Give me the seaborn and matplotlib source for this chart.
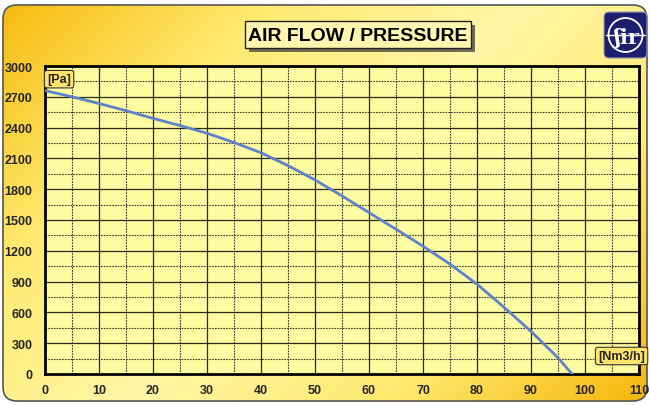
import numpy as np
import pandas as pd
import matplotlib
matplotlib.use("Agg")
import matplotlib.pyplot as plt
import seaborn as sns
from matplotlib.patches import FancyBboxPatch, Circle
from matplotlib.colors import LinearSegmentedColormap

sns.set_theme(style="white")
plt.rcParams['font.family'] = ['Liberation Sans', 'DejaVu Sans']

# data
flow = [0, 5, 10, 15, 20, 25, 30, 35, 40, 45, 50, 55, 60, 65, 70, 75, 80, 85, 90, 95, 97.6]
pressure = [2760, 2700, 2635, 2565, 2490, 2420, 2345, 2255, 2155, 2030, 1890, 1735,
            1572, 1410, 1245, 1070, 875, 650, 415, 158, 0]
x_ticks = [0, 10, 20, 30, 40, 50, 60, 70, 80, 90, 100, 110]
y_ticks = [0, 300, 600, 900, 1200, 1500, 1800, 2100, 2400, 2700, 3000]
title = "AIR FLOW / PRESSURE"
y_unit = "[Pa]"
x_unit = "[Nm3/h]"

W, H = 650, 406
fig = plt.figure(figsize=(W/100, H/100), dpi=100)
fig.patch.set_facecolor("white")

# background gradient panel
bg = fig.add_axes([0, 0, 1, 1], zorder=0)
bg.set_xlim(0, W); bg.set_ylim(H, 0); bg.axis("off")
cmap = LinearSegmentedColormap.from_list("g", ["#F6BC10", "#FFEA70", "#FFF6A6", "#FFEA70", "#F7B70C"])
xx, yy = np.meshgrid(np.linspace(0, 1, 300), np.linspace(0, 1, 200))
grad = (xx * 0.62 + yy * 0.38)
panel = FancyBboxPatch((3, 6), W - 6, H - 10, boxstyle="round,pad=0,rounding_size=14",
                       facecolor="none", edgecolor="#555555", lw=1.2, zorder=3)
bg.add_patch(panel)
im = bg.imshow(grad, cmap=cmap, extent=[3, W - 3, H - 4, 6], aspect="auto", zorder=1)
im.set_clip_path(panel)

# title box
bg.add_patch(FancyBboxPatch((249, 26), 226, 27, boxstyle="square,pad=0", facecolor="#333333",
                            edgecolor="none", zorder=4, alpha=0.7))
bg.add_patch(FancyBboxPatch((245, 22), 226, 27, boxstyle="square,pad=0", facecolor="#FFF7B0",
                            edgecolor="#222222", lw=1, zorder=5))
bg.text(358, 36.5, title, ha="center", va="center", fontsize=14, fontweight="bold",
        color="black", zorder=6)

# logo
bg.add_patch(FancyBboxPatch((604, 13), 43, 46, boxstyle="round,pad=0,rounding_size=5",
                            facecolor="#1C1E6E", edgecolor="#9999BB", lw=0.8, zorder=5))
bg.add_patch(Circle((625.5, 36), 17, facecolor="none", edgecolor="white", lw=1.3, zorder=6))
bg.plot([606, 645], [36, 36], color="white", lw=1.0, zorder=6)
bg.text(627, 38, "ʃir", ha="center", va="center", fontsize=15, fontweight="bold",
        color="white", zorder=7, family=["DejaVu Serif"])

# main axes
left, right, top, bottom = 45, 639, 67, 375
ax = fig.add_axes([left/W, (H-bottom)/H, (right-left)/W, (bottom-top)/H], zorder=2)
ax.set_facecolor("#FFFCA2")
df = pd.DataFrame({"flow": flow, "pressure": pressure})
sns.lineplot(data=df, x="flow", y="pressure", ax=ax, color="#5C83C8", lw=2, zorder=5)
ax.set_xlim(0, 110); ax.set_ylim(0, 3000)
ax.set_xticks(x_ticks); ax.set_yticks(y_ticks)
ax.set_xticks(np.arange(5, 110, 10), minor=True)
ax.set_yticks(np.arange(150, 3000, 300), minor=True)
ax.grid(True, which="major", color="#2A2A1A", lw=0.9)
ax.grid(True, which="minor", color="#3A3A2A", lw=0.8, ls=(0, (1.5, 1)))
ax.set_xlabel(""); ax.set_ylabel("")
for s in ax.spines.values():
    s.set_color("black"); s.set_linewidth(2)
ax.tick_params(axis="both", which="major", labelsize=9, length=3, color="black", width=1)
ax.tick_params(axis="y", pad=6)
ax.tick_params(axis="x", pad=4)
for lab in ax.get_xticklabels() + ax.get_yticklabels():
    lab.set_fontweight("bold")

# unit labels
ax.text(0.4, 2930, y_unit, ha="left", va="top", fontsize=9, fontweight="bold", zorder=10,
        bbox=dict(boxstyle="round,pad=0.22,rounding_size=0.2", fc="#FFE36A", ec="#333333", lw=0.8))
fig.text(645/W, 1 - 357/H, x_unit, ha="right", va="center", fontsize=9, fontweight="bold",
         zorder=10,
         bbox=dict(boxstyle="round,pad=0.22,rounding_size=0.2", fc="#FFE36A", ec="#333333", lw=0.8))
fig.savefig("out.png", dpi=100)
